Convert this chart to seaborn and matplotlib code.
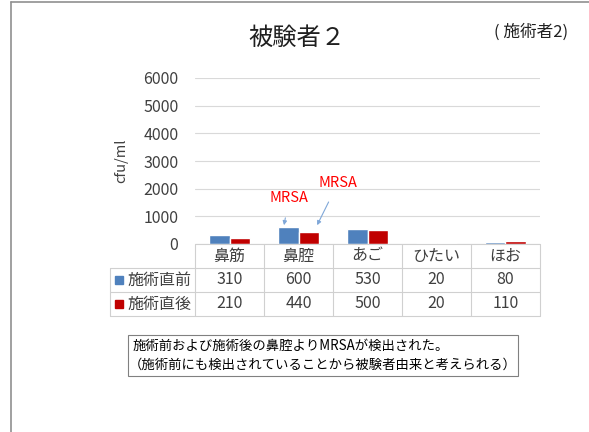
import numpy as np
import pandas as pd
import seaborn as sns
import matplotlib.pyplot as plt
from matplotlib.lines import Line2D
from matplotlib.patches import Rectangle

categories = ["鼻筋", "鼻腔", "あご", "ひたい", "ほお"]
series_names = ["施術直前", "施術直後"]
before = [310, 600, 530, 20, 80]
after = [210, 440, 500, 20, 110]
colors = ["#4F81BD", "#C00000"]

df = pd.DataFrame({
    "部位": categories * 2,
    "系列": [series_names[0]] * 5 + [series_names[1]] * 5,
    "cfu": before + after,
})

sns.set_style("white")
plt.rcParams['font.family'] = ['Noto Sans CJK JP', 'DejaVu Sans']

W, H = 589, 432
fig = plt.figure(figsize=(W / 100, H / 100), dpi=100)

def fx(x):
    return x / W

def fy(y):
    return 1 - y / H

ax_l, ax_r, ax_t, ax_b = 195, 540, 78, 244
ax = fig.add_axes([fx(ax_l), fy(ax_b), fx(ax_r - ax_l), (ax_b - ax_t) / H])
sns.barplot(data=df, x="部位", y="cfu", hue="系列", palette=colors,
            width=0.58, gap=0, ax=ax, legend=False, saturation=1)
ax.set_ylim(0, 6000)
ax.set_xlim(-0.5, 4.5)
ax.set_yticks(range(0, 6001, 1000))
ax.yaxis.grid(True, color="#D9D9D9", linewidth=0.8)
ax.set_axisbelow(True)
for s in ax.spines.values():
    s.set_visible(False)
ax.set_xticks([])
ax.set_xlabel("")
ax.set_ylabel("")
ax.tick_params(axis="y", length=0, pad=12, labelsize=11.5, labelcolor="#404040")

fig.text(fx(121), fy(161), "cfu/ml", rotation=90, ha="center", va="center",
         fontsize=10.5, color="#404040")

# title
fig.text(fx(297), fy(38), "被験者２", ha="center", va="center", fontsize=17.5, color="#202020")
fig.text(fx(531), fy(32), "( 施術者2)", ha="center", va="center", fontsize=12, color="#202020")

# MRSA annotations
arrow = dict(arrowstyle="-|>", color="#7FA7D8", lw=0.8, shrinkA=7, shrinkB=0, mutation_scale=6)
ax.annotate("MRSA", xy=(0.79, 680), xycoords="data",
            xytext=(fx(289), fy(198)), textcoords="figure fraction",
            ha="center", va="center", color="#FF0000", fontsize=10.5, arrowprops=arrow)
ax.annotate("MRSA", xy=(1.27, 680), xycoords="data",
            xytext=(fx(338), fy(183)), textcoords="figure fraction",
            ha="center", va="center", color="#FF0000", fontsize=10.5, arrowprops=arrow)

# data table
lc = "#D0D0D0"
rows_y = [244, 268, 292, 316]
col_x = [ax_l + i * (ax_r - ax_l) / 5 for i in range(6)]
tab_l = 110
fig.add_artist(Line2D([fx(ax_l), fx(ax_r)], [fy(244), fy(244)], color=lc, lw=0.8))
for y in rows_y[1:]:
    fig.add_artist(Line2D([fx(tab_l), fx(ax_r)], [fy(y), fy(y)], color=lc, lw=0.8))
for x in col_x:
    fig.add_artist(Line2D([fx(x), fx(x)], [fy(244), fy(316)], color=lc, lw=0.8))
fig.add_artist(Line2D([fx(tab_l), fx(tab_l)], [fy(268), fy(316)], color=lc, lw=0.8))

fs = 11.5
for i, c in enumerate(categories):
    cx = (col_x[i] + col_x[i + 1]) / 2
    fig.text(fx(cx), fy(256), c, ha="center", va="center", fontsize=fs, color="#404040")
    fig.text(fx(cx), fy(280), str(before[i]), ha="center", va="center", fontsize=fs, color="#404040")
    fig.text(fx(cx), fy(304), str(after[i]), ha="center", va="center", fontsize=fs, color="#404040")

for j, (name, col) in enumerate(zip(series_names, colors)):
    yc = 280 + 24 * j
    fig.add_artist(Rectangle((fx(115), fy(yc + 4)), fx(8), 8 / H, color=col))
    fig.text(fx(127), fy(yc), name, ha="left", va="center", fontsize=fs, color="#404040")

# note box
fig.add_artist(Rectangle((fx(128), fy(376)), fx(518 - 128), (376 - 335) / H,
                         fill=False, edgecolor="#808080", lw=0.8))
fig.text(fx(133), fy(346), "施術前および施術後の鼻腔よりMRSAが検出された。",
         ha="left", va="center", fontsize=9.6, color="#000000")
fig.text(fx(129), fy(365), "（施術前にも検出されていることから被験者由来と考えられる）",
         ha="left", va="center", fontsize=9.6, color="#000000")

# outer frame
fig.add_artist(Line2D([fx(11), fx(11)], [fy(2), 0], color="#909090", lw=1.2))
fig.add_artist(Line2D([fx(11), 1], [fy(2), fy(2)], color="#909090", lw=1.2))

fig.savefig("out.png", dpi=100)
